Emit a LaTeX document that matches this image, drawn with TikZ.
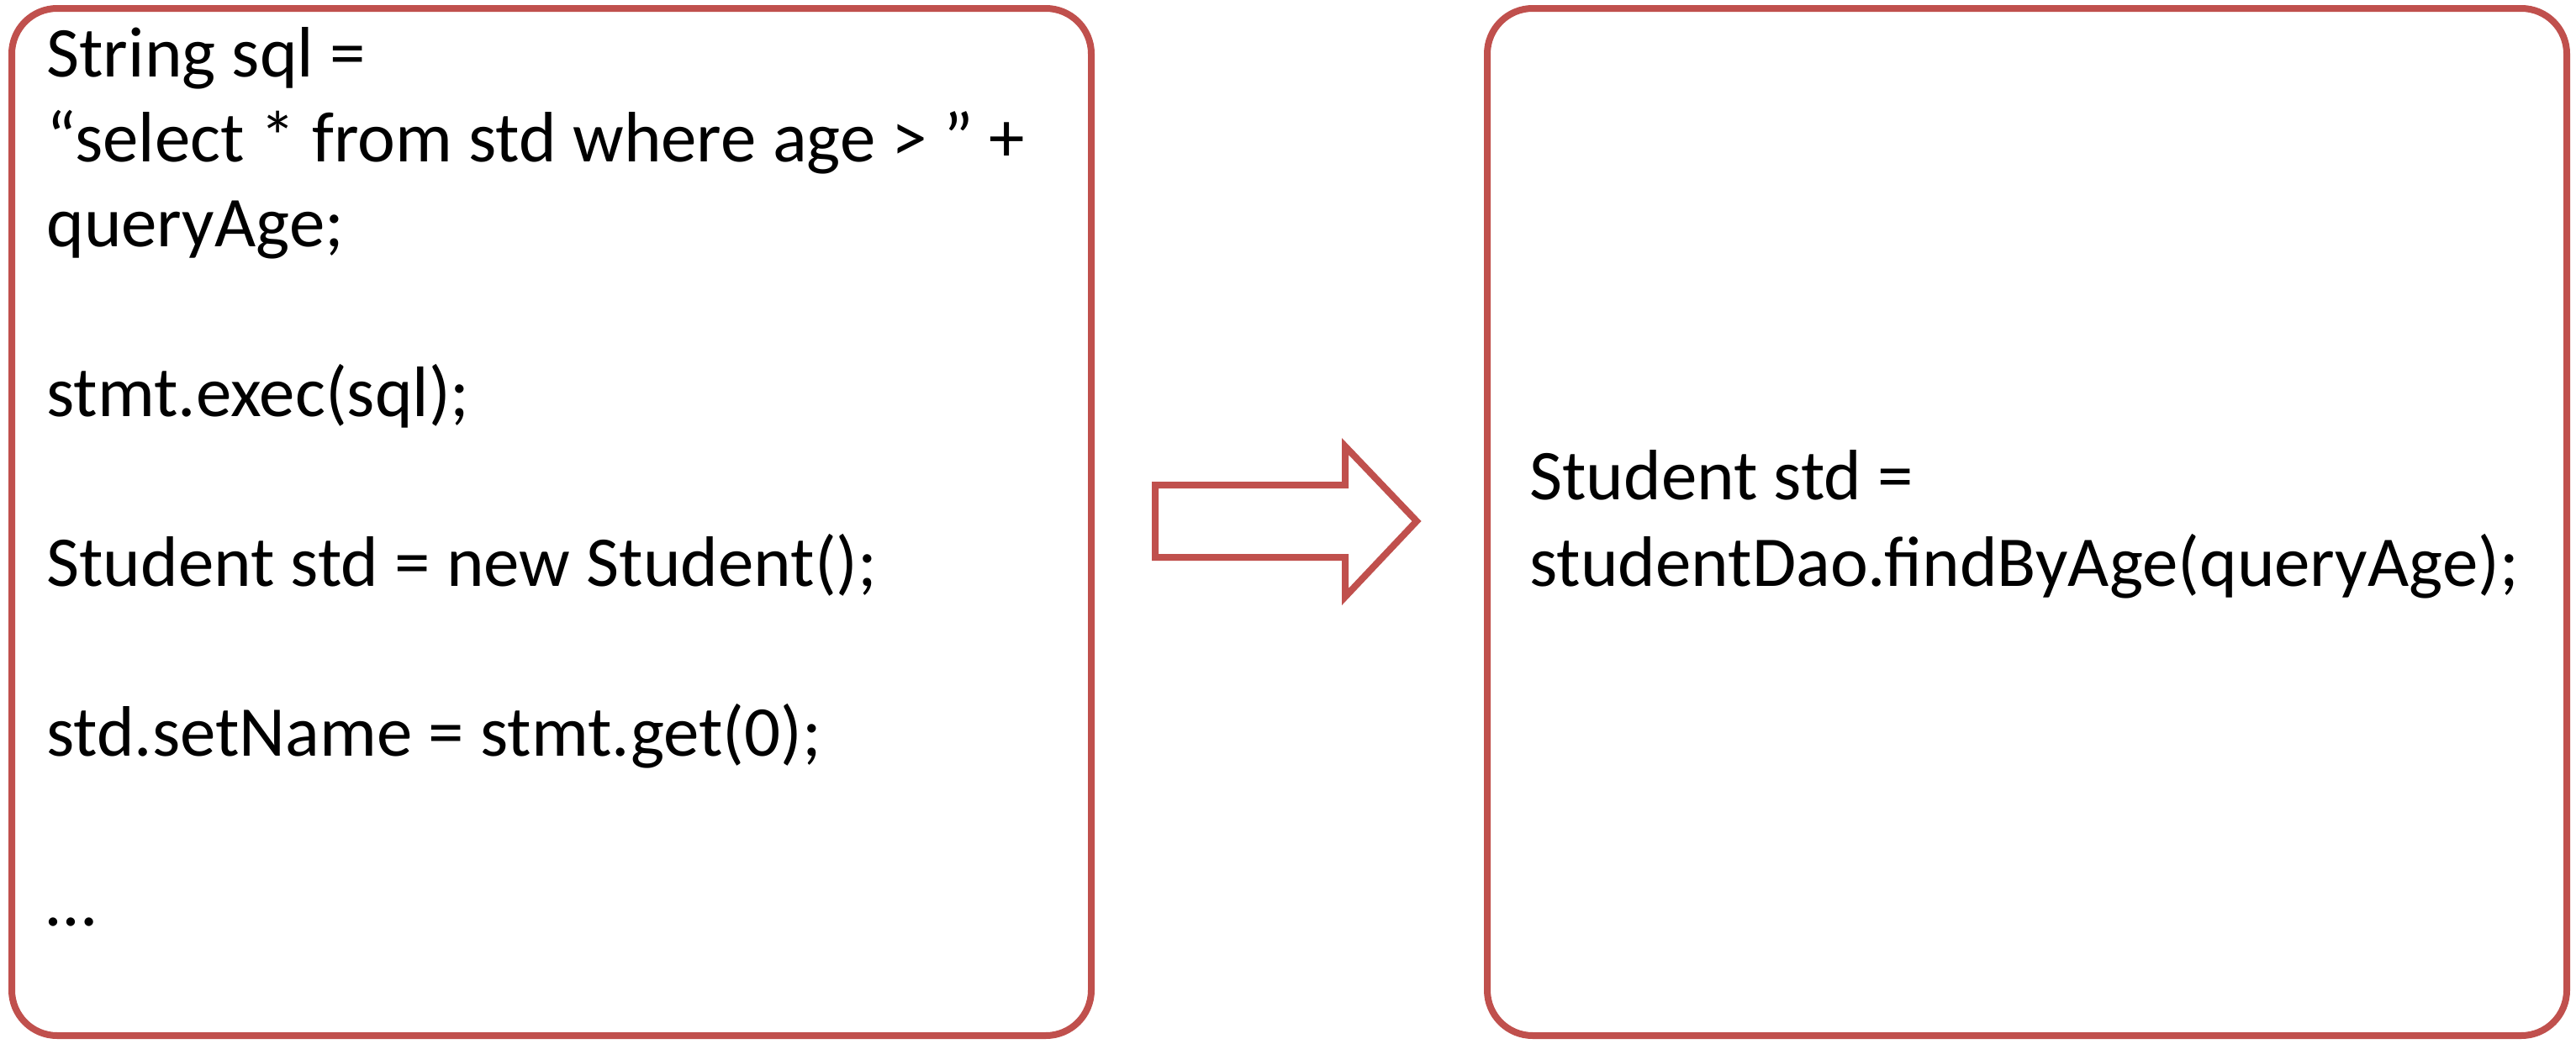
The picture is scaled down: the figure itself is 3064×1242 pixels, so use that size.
\documentclass[tikz,border=0pt]{standalone}
\usepackage{fontspec}
\setmainfont{Carlito}
\definecolor{boxred}{HTML}{C0504D}
\begin{document}
\begin{tikzpicture}[x=0.5pt,y=-0.5pt,
  frame/.style={draw=boxred,line width=4pt,rounded corners=27pt},
  codeline/.style={anchor=base west,inner sep=0pt,font=\fontsize{42.5}{50}\selectfont}]
\useasboundingbox (0,0) rectangle (3064,1242);
\fill[white] (0,0) rectangle (3064,1242);
% boxes
\draw[frame] (14,10) rectangle (1298,1232);
\draw[frame] (1769,10) rectangle (3053,1232);
% block arrow
\draw[draw=boxred,line width=4pt,line join=miter,fill=white]
  (1374,577) -- (1600,577) -- (1600,531) -- (1685,620) -- (1600,710) -- (1600,663) -- (1374,663) -- cycle;
% left code
\node[codeline] (l1) at (55,91) {String sql =};
\node[codeline] (l2) at (55,192) {“select * from std where age > ” +};
\node[codeline] (l3) at (55,293) {queryAge;};
\node[codeline] (l4) at (55,495) {stmt.exec(sql);};
\node[codeline] (l5) at (55,697) {Student std = new Student();};
\node[codeline] (l6) at (55,899) {std.setName = stmt.get(0);};
\node[codeline] (l7) at (55,1101) {…};
% right code
\node[codeline] (r1) at (1819,594) {Student std =};
\node[codeline] (r2) at (1819,697) {studentDao.findByAge(queryAge);};
\end{tikzpicture}
\end{document}
